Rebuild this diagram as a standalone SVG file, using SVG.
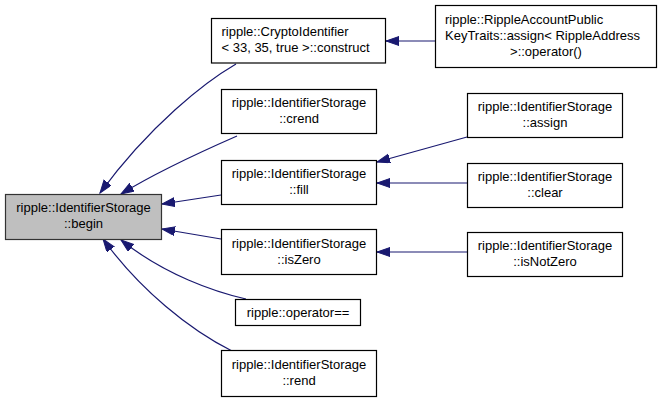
<svg xmlns="http://www.w3.org/2000/svg" width="661" height="403" viewBox="0 0 661 403">
<style>
.n rect{fill:#fff;stroke:#000;stroke-width:1.2}
#begin rect{fill:#bfbfbf;stroke:#333}
text{font-family:"Liberation Sans",Arial,Helvetica,sans-serif;font-size:13px;fill:#000}
.m{text-anchor:middle}
.s{text-anchor:start}
#edges path{fill:none;stroke:#191970;stroke-width:1.2;marker-end:url(#ah)}
</style>
<defs>
<marker id="ah" markerUnits="userSpaceOnUse" markerWidth="14" markerHeight="10" refX="13" refY="4.5" orient="auto">
<path d="M0,0 L13,4.5 L0,9 z" fill="#191970" stroke="#191970" stroke-width="1"/>
</marker>
</defs>
<rect width="661" height="403" fill="#fff"/>
<g id="edges">
<path d="M236,64 C205,82 150,125 100,193"/>
<path d="M237,136 C205,150 160,170 121,194"/>
<path d="M221,195 L162,204"/>
<path d="M221,239 L162,229"/>
<path d="M246,299 C215,292 165,275 121,240"/>
<path d="M232,351 C190,330 140,290 103,239"/>
<path d="M435,41 L386,41"/>
<path d="M467,137 L377,162"/>
<path d="M467,183 L377,183"/>
<path d="M467,252 L377,252"/>
</g>
<g id="begin" class="n">
<rect x="5.5" y="194.5" width="156" height="45"/>
<text class="m" x="83.5" y="212">ripple::IdentifierStorage</text>
<text class="m" x="83.5" y="228">::begin</text>
</g>
<g id="crypto" class="n">
<rect x="211.5" y="18.5" width="174" height="44.5"/>
<text class="s" x="221.5" y="36">ripple::CryptoIdentifier</text>
<text class="s" x="221.5" y="52">&lt; 33, 35, true &gt;::construct</text>
</g>
<g id="rippleacct" class="n">
<rect x="435.5" y="5.5" width="221" height="62"/>
<text class="s" x="445" y="24">ripple::RippleAccountPublic</text>
<text class="s" x="445" y="40">KeyTraits::assign&lt; RippleAddress</text>
<text class="m" x="546" y="56">&gt;::operator()</text>
</g>
<g id="crend" class="n">
<rect x="221.5" y="89.5" width="155" height="44"/>
<text class="m" x="299" y="107">ripple::IdentifierStorage</text>
<text class="m" x="299" y="123">::crend</text>
</g>
<g id="fill" class="n">
<rect x="221.5" y="160.5" width="155" height="44"/>
<text class="m" x="299" y="178">ripple::IdentifierStorage</text>
<text class="m" x="299" y="194">::fill</text>
</g>
<g id="iszero" class="n">
<rect x="221.5" y="229.5" width="155" height="45"/>
<text class="m" x="299" y="247.5">ripple::IdentifierStorage</text>
<text class="m" x="299" y="263.5">::isZero</text>
</g>
<g id="opeq" class="n">
<rect x="235.5" y="299.5" width="125" height="26"/>
<text class="m" x="298" y="317">ripple::operator==</text>
</g>
<g id="rend" class="n">
<rect x="221.5" y="350.5" width="155" height="46"/>
<text class="m" x="299" y="369">ripple::IdentifierStorage</text>
<text class="m" x="299" y="385">::rend</text>
</g>
<g id="assign" class="n">
<rect x="467.5" y="93.5" width="155" height="44"/>
<text class="m" x="545" y="111">ripple::IdentifierStorage</text>
<text class="m" x="545" y="127">::assign</text>
</g>
<g id="clear" class="n">
<rect x="467.5" y="163.5" width="155" height="44"/>
<text class="m" x="545" y="181">ripple::IdentifierStorage</text>
<text class="m" x="545" y="197">::clear</text>
</g>
<g id="isnotzero" class="n">
<rect x="467.5" y="232.5" width="155" height="44"/>
<text class="m" x="545" y="250">ripple::IdentifierStorage</text>
<text class="m" x="545" y="266">::isNotZero</text>
</g>
</svg>
